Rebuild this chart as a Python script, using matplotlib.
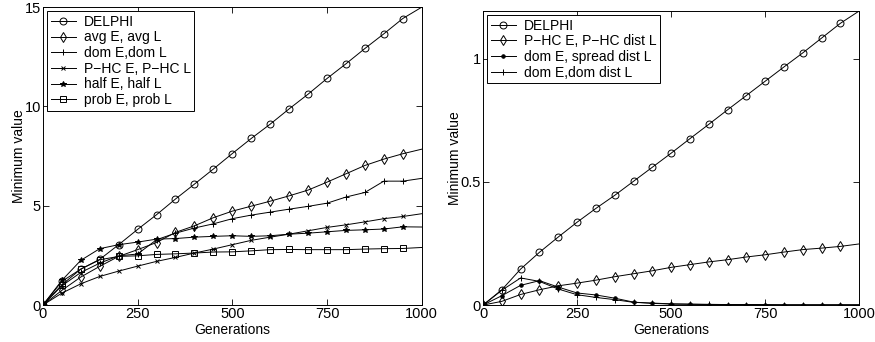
import numpy as np
import matplotlib
matplotlib.use("Agg")
import matplotlib.pyplot as plt

plt.rcParams['font.family'] = ['Liberation Sans', 'DejaVu Sans']
plt.rcParams['font.size'] = 10

gens = list(range(0, 1001, 50))

# left panel
delphi_l = [0, 1.19, 1.81, 2.30, 3.04, 3.81, 4.55, 5.34, 6.09, 6.85, 7.63, 8.39, 9.11,
            9.88, 10.62, 11.41, 12.15, 12.92, 13.66, 14.43, 15.0]
avg_l = [0, 0.74, 1.41, 1.95, 2.45, 2.79, 3.15, 3.66, 3.99, 4.40, 4.73, 4.98, 5.23,
         5.50, 5.79, 6.19, 6.61, 7.03, 7.35, 7.62, 7.85]
dom_l = [0, 0.97, 1.64, 2.11, 2.48, 2.57, 3.29, 3.62, 3.88, 4.09, 4.35, 4.53, 4.68,
         4.83, 4.97, 5.13, 5.44, 5.67, 6.24, 6.24, 6.38]
phc_l = [0, 0.60, 1.07, 1.44, 1.71, 1.96, 2.20, 2.40, 2.62, 2.82, 3.04, 3.26, 3.42,
         3.57, 3.74, 3.91, 4.04, 4.19, 4.35, 4.46, 4.60]
half_l = [0, 1.24, 2.25, 2.84, 3.04, 3.17, 3.32, 3.35, 3.42, 3.46, 3.49, 3.46, 3.49,
          3.57, 3.62, 3.69, 3.76, 3.79, 3.83, 3.94, 3.93]
prob_l = [0, 1.02, 1.81, 2.28, 2.45, 2.48, 2.55, 2.58, 2.62, 2.67, 2.68, 2.73, 2.79,
          2.80, 2.79, 2.79, 2.79, 2.82, 2.84, 2.85, 2.90]

# right panel
delphi_r = [0, 0.062, 0.146, 0.214, 0.276, 0.336, 0.392, 0.445, 0.502, 0.559, 0.616,
            0.675, 0.733, 0.792, 0.850, 0.908, 0.966, 1.023, 1.083, 1.143, 1.193]
phc_r = [0, 0.015, 0.043, 0.062, 0.078, 0.089, 0.101, 0.115, 0.127, 0.139, 0.153,
         0.164, 0.175, 0.184, 0.195, 0.204, 0.215, 0.225, 0.231, 0.238, 0.248]
spread_r = [0, 0.038, 0.080, 0.099, 0.073, 0.049, 0.041, 0.028, 0.012, 0.007, 0.004,
            0.003, 0.002, 0.002, 0.002, 0.001, 0.001, 0.001, 0.001, 0.001, 0.001]
domd_r = [0, 0.060, 0.110, 0.096, 0.065, 0.042, 0.031, 0.022, 0.011, 0.008, 0.005,
          0.004, 0.003, 0.002, 0.002, 0.002, 0.001, 0.001, 0.001, 0.001, 0.001]

fig = plt.figure(figsize=(8.75, 3.42), dpi=100)
ax1 = fig.add_axes([0.049, 0.108, 0.433, 0.871])
ax2 = fig.add_axes([0.552, 0.108, 0.430, 0.860])

me = slice(0, 20)
kw = dict(color='k', lw=0.7, markevery=me, mfc='none', mew=0.7)

ax1.plot(gens, delphi_l, marker='o', ms=5, label='DELPHI', **kw)
ax1.plot(gens, avg_l, marker='d', ms=5.5, label='avg E, avg L', **kw)
ax1.plot(gens, dom_l, marker='+', ms=5, label='dom E,dom L', **kw)
ax1.plot(gens, phc_l, marker='x', ms=3.5, label='P\u2212HC E, P\u2212HC L', **kw)
ax1.plot(gens, half_l, marker='*', ms=4, label='half E, half L',
         **{**kw, 'mfc': 'k'})
ax1.plot(gens, prob_l, marker='s', ms=4, label='prob E, prob L', **kw)

ax2.plot(gens, delphi_r, marker='o', ms=5, label='DELPHI', **kw)
ax2.plot(gens, phc_r, marker='d', ms=5.5, label='P\u2212HC E, P\u2212HC dist L', **kw)
ax2.plot(gens, spread_r, marker='.', ms=5, label='dom E, spread dist L',
         **{**kw, 'mfc': 'k'})
ax2.plot(gens, domd_r, marker='+', ms=5, label='dom E,dom dist L', **kw)

for ax in (ax1, ax2):
    ax.set_xlim(0, 1000)
    ax.set_xticks([0, 250, 500, 750, 1000])
    ax.set_xlabel('Generations', labelpad=1)
    ax.set_ylabel('Minimum value', labelpad=-1)
    ax.tick_params(direction='in', top=True, right=True, length=4, width=0.6, pad=1.5,
                   labelsize=10.5)
    for s in ax.spines.values():
        s.set_linewidth(0.7)
    leg = ax.legend(loc='upper left', numpoints=1, handlelength=1.8, handletextpad=0.6,
                    labelspacing=0.12, borderpad=0.25, borderaxespad=0.3,
                    fancybox=False, edgecolor='k', framealpha=1)
    leg.get_frame().set_linewidth(0.7)

ax1.set_ylim(0, 15)
ax1.set_yticks([0, 5, 10, 15])
ax2.set_ylim(0, 1.193)
ax2.set_yticks([0, 0.5, 1])
ax2.set_yticklabels(['0', '0.5', '1'])

fig.savefig('out.png', dpi=100)
